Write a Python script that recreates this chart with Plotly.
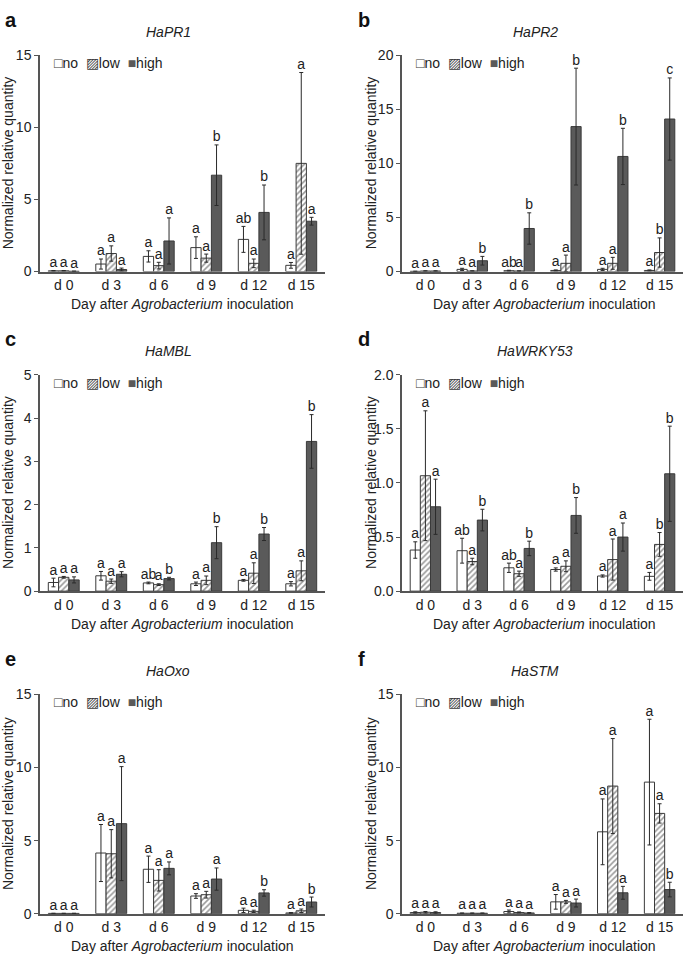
import plotly.graph_objects as go

# ---------------- data ----------------
categories = ["d 0", "d 3", "d 6", "d 9", "d 12", "d 15"]
series_names = ["no", "low", "high"]
genes = ["HaPR1", "HaPR2", "HaMBL", "HaWRKY53", "HaOxo", "HaSTM"]
panel_letters = ["a", "b", "c", "d", "e", "f"]

# HaPR1
pr1_no = [0.05, 0.52, 1.05, 1.66, 2.23, 0.43]
pr1_no_sd = [0.02, 0.35, 0.39, 0.75, 0.90, 0.20]
pr1_low = [0.05, 1.25, 0.41, 0.93, 0.57, 7.50]
pr1_low_sd = [0.02, 0.53, 0.23, 0.28, 0.30, 6.30]
pr1_high = [0.02, 0.14, 2.12, 6.68, 4.10, 3.49]
pr1_high_sd = [0.01, 0.10, 1.60, 2.10, 1.90, 0.27]
pr1_let_no = ["a", "a", "a", "a", "ab", "a"]
pr1_let_low = ["a", "a", "a", "a", "a", "a"]
pr1_let_high = ["a", "a", "a", "b", "b", "a"]

# HaPR2
pr2_no = [0.02, 0.20, 0.08, 0.10, 0.20, 0.10]
pr2_no_sd = [0.01, 0.10, 0.04, 0.05, 0.10, 0.05]
pr2_low = [0.05, 0.05, 0.05, 0.76, 0.76, 1.76]
pr2_low_sd = [0.02, 0.02, 0.02, 0.76, 0.55, 1.35]
pr2_high = [0.05, 1.00, 3.98, 13.40, 10.64, 14.10]
pr2_high_sd = [0.02, 0.40, 1.45, 5.40, 2.60, 3.80]
pr2_let_no = ["a", "a", "ab", "a", "a", "a"]
pr2_let_low = ["a", "a", "a", "a", "a", "b"]
pr2_let_high = ["a", "b", "b", "b", "b", "c"]

# HaMBL
mbl_no = [0.20, 0.355, 0.19, 0.17, 0.25, 0.17]
mbl_no_sd = [0.10, 0.10, 0.02, 0.04, 0.02, 0.05]
mbl_low = [0.32, 0.23, 0.15, 0.25, 0.415, 0.47]
mbl_low_sd = [0.02, 0.05, 0.02, 0.10, 0.24, 0.23]
mbl_high = [0.26, 0.39, 0.29, 1.12, 1.32, 3.46]
mbl_high_sd = [0.07, 0.06, 0.03, 0.37, 0.15, 0.62]
mbl_let_no = ["a", "a", "ab", "a", "a", "a"]
mbl_let_low = ["a", "a", "a", "a", "a", "a"]
mbl_let_high = ["a", "a", "b", "b", "b", "b"]

# HaWRKY53
wrky_no = [0.38, 0.374, 0.216, 0.20, 0.14, 0.137]
wrky_no_sd = [0.076, 0.115, 0.043, 0.015, 0.01, 0.036]
wrky_low = [1.067, 0.274, 0.161, 0.23, 0.292, 0.432]
wrky_low_sd = [0.60, 0.03, 0.024, 0.05, 0.19, 0.11]
wrky_high = [0.78, 0.657, 0.395, 0.70, 0.50, 1.085]
wrky_high_sd = [0.255, 0.10, 0.067, 0.165, 0.13, 0.44]
wrky_let_no = ["a", "ab", "ab", "a", "a", "a"]
wrky_let_low = ["a", "a", "a", "a", "a", "b"]
wrky_let_high = ["a", "b", "b", "b", "a", "b"]

# HaOxo
oxo_no = [0.02, 4.15, 3.04, 1.21, 0.23, 0.05]
oxo_no_sd = [0.01, 1.95, 0.90, 0.16, 0.15, 0.03]
oxo_low = [0.02, 4.10, 2.28, 1.30, 0.16, 0.20]
oxo_low_sd = [0.01, 1.65, 0.73, 0.23, 0.08, 0.12]
oxo_high = [0.02, 6.16, 3.10, 2.37, 1.42, 0.80]
oxo_high_sd = [0.01, 3.90, 0.44, 0.76, 0.22, 0.34]
oxo_let_no = ["a", "a", "a", "a", "a", "a"]
oxo_let_low = ["a", "a", "a", "a", "a", "a"]
oxo_let_high = ["a", "a", "a", "a", "b", "b"]

# HaSTM
stm_no = [0.08, 0.03, 0.15, 0.81, 5.60, 9.00]
stm_no_sd = [0.05, 0.02, 0.10, 0.50, 2.25, 4.30]
stm_low = [0.10, 0.03, 0.08, 0.81, 8.73, 6.86]
stm_low_sd = [0.05, 0.02, 0.04, 0.10, 3.25, 0.66]
stm_high = [0.08, 0.03, 0.05, 0.73, 1.43, 1.65]
stm_high_sd = [0.05, 0.02, 0.03, 0.27, 0.44, 0.50]
stm_let_no = ["a", "a", "a", "a", "a", "a"]
stm_let_low = ["a", "a", "a", "a", "a", "a"]
stm_let_high = ["a", "a", "a", "a", "a", "b"]

y_max = [15, 20, 5, 2.0, 15, 15]
y_dtick = [5, 5, 1, 0.5, 5, 5]

panels = [
    ((pr1_no, pr1_low, pr1_high), (pr1_no_sd, pr1_low_sd, pr1_high_sd),
     (pr1_let_no, pr1_let_low, pr1_let_high)),
    ((pr2_no, pr2_low, pr2_high), (pr2_no_sd, pr2_low_sd, pr2_high_sd),
     (pr2_let_no, pr2_let_low, pr2_let_high)),
    ((mbl_no, mbl_low, mbl_high), (mbl_no_sd, mbl_low_sd, mbl_high_sd),
     (mbl_let_no, mbl_let_low, mbl_let_high)),
    ((wrky_no, wrky_low, wrky_high), (wrky_no_sd, wrky_low_sd, wrky_high_sd),
     (wrky_let_no, wrky_let_low, wrky_let_high)),
    ((oxo_no, oxo_low, oxo_high), (oxo_no_sd, oxo_low_sd, oxo_high_sd),
     (oxo_let_no, oxo_let_low, oxo_let_high)),
    ((stm_no, stm_low, stm_high), (stm_no_sd, stm_low_sd, stm_high_sd),
     (stm_let_no, stm_let_low, stm_let_high)),
]

# ---------------- style / layout ----------------
W, H = 685, 963
FONT = "Liberation Sans, Arial, Helvetica, sans-serif"
AXIS_COLOR = "#555555"
TEXT_COLOR = "#222222"
EDGE = "#3a3a3a"
DARK = "#5a5a5a"
BARGAP = 0.35
n_series = 3
bar_w = (1 - BARGAP) / n_series

col_px = [(40, 325), (402, 683)]
row_px = [(48, 268), (373, 593), (698, 921)]

fig = go.Figure()
annotations = []

for p in range(6):
    r, c = divmod(p, 2)
    ax = "" if p == 0 else str(p + 1)
    xref, yref = "x" + ax, "y" + ax
    means, sds, lets = panels[p]
    x_idx = list(range(len(categories)))
    for k in range(n_series):
        marker = dict(line=dict(color=EDGE, width=1))
        if k == 0:
            marker["color"] = "white"
        elif k == 1:
            marker["color"] = "white"
            marker["pattern"] = dict(shape="/", fgcolor="#333333", bgcolor="white",
                                     size=4, solidity=0.4)
        else:
            marker["color"] = DARK
        fig.add_trace(go.Bar(
            x=x_idx, y=means[k], name=series_names[k],
            error_y=dict(type="data", array=sds[k], color="#2a2a2a",
                         thickness=1, width=2),
            marker=marker, xaxis=xref, yaxis=yref, showlegend=False,
        ))
        off = (k - (n_series - 1) / 2) * bar_w
        fig.add_trace(go.Scatter(
            x=[i + off for i in x_idx],
            y=[m + s for m, s in zip(means[k], sds[k])],
            mode="text", text=lets[k], textposition="top center",
            textfont=dict(size=14, color=TEXT_COLOR, family=FONT),
            xaxis=xref, yaxis=yref, showlegend=False, hoverinfo="skip",
            cliponaxis=False,
        ))

    x0, x1 = col_px[c]
    ytop, ybot = row_px[r]
    xdom = [x0 / W, x1 / W]
    ydom = [1 - ybot / H, 1 - ytop / H]
    fig.layout["xaxis" + ax] = dict(
        domain=xdom, anchor=yref, range=[-0.5, len(categories) - 0.5],
        tickvals=list(range(len(categories))), ticktext=categories,
        showline=True, linecolor=AXIS_COLOR, linewidth=1.5, ticks="",
        showgrid=False, zeroline=False,
        tickfont=dict(size=14, color=TEXT_COLOR, family=FONT),
    )
    fig.layout["yaxis" + ax] = dict(
        domain=ydom, anchor=xref, range=[0, y_max[p]], dtick=y_dtick[p],
        tickformat=".1f" if p == 3 else "d",
        showline=True, linecolor=AXIS_COLOR, linewidth=1.5,
        ticks="outside", ticklen=4, tickcolor=AXIS_COLOR, tickwidth=1,
        showgrid=False, zeroline=False,
        tickfont=dict(size=14, color=TEXT_COLOR, family=FONT),
    )

    # panel letter
    annotations.append(dict(
        text="<b>%s</b>" % panel_letters[p], xref="paper", yref="paper",
        x=(3 if c == 0 else 356) / W, y=1 - (ytop - 36) / H,
        xanchor="left", yanchor="middle", showarrow=False,
        font=dict(size=20, color="#111", family=FONT)))
    # gene title
    annotations.append(dict(
        text="<i>%s</i>" % genes[p], xref="paper", yref="paper",
        x=(168 if c == 0 else 535) / W, y=1 - (ytop - 24) / H,
        xanchor="center", yanchor="middle", showarrow=False,
        font=dict(size=14, color=TEXT_COLOR, family=FONT)))
    # y title
    annotations.append(dict(
        text="Normalized relative quantity", xref="paper", yref="paper",
        x=(8 if c == 0 else 371) / W, y=1 - ((ytop + ybot) / 2) / H,
        xanchor="center", yanchor="middle", textangle=-90, showarrow=False,
        font=dict(size=14, color=TEXT_COLOR, family=FONT)))
    # x title
    annotations.append(dict(
        text="Day after <i>Agrobacterium</i> inoculation", xref="paper", yref="paper",
        x=(182 if c == 0 else 544) / W, y=1 - (ybot + 33) / H,
        xanchor="center", yanchor="middle", showarrow=False,
        font=dict(size=14, color=TEXT_COLOR, family=FONT)))
    # legend
    nb = "\u00a0"
    leg = ('<span style="color:#3a3a3a">\u25a1</span>' + series_names[0] + nb * 2 +
           '<span style="color:#3a3a3a">\u25a8</span>' + series_names[1] + nb * 2 +
           '<span style="color:%s">\u25a0</span>' % DARK + series_names[2])
    annotations.append(dict(
        text=leg, xref="paper", yref="paper",
        x=(x0 + 12) / W, y=1 - (ytop + 8) / H,
        xanchor="left", yanchor="middle", showarrow=False,
        font=dict(size=14, color=TEXT_COLOR, family=FONT)))

fig.update_layout(
    width=W, height=H, margin=dict(l=0, r=0, t=0, b=0),
    barmode="group", bargap=BARGAP, bargroupgap=0,
    plot_bgcolor="white", paper_bgcolor="white",
    font=dict(family=FONT, color=TEXT_COLOR),
    annotations=annotations, showlegend=False,
)

fig.write_html(
    "out.html",
    config={"displayModeBar": False},
    post_script="document.body.style.margin='0';document.body.style.overflow='hidden';",
)
